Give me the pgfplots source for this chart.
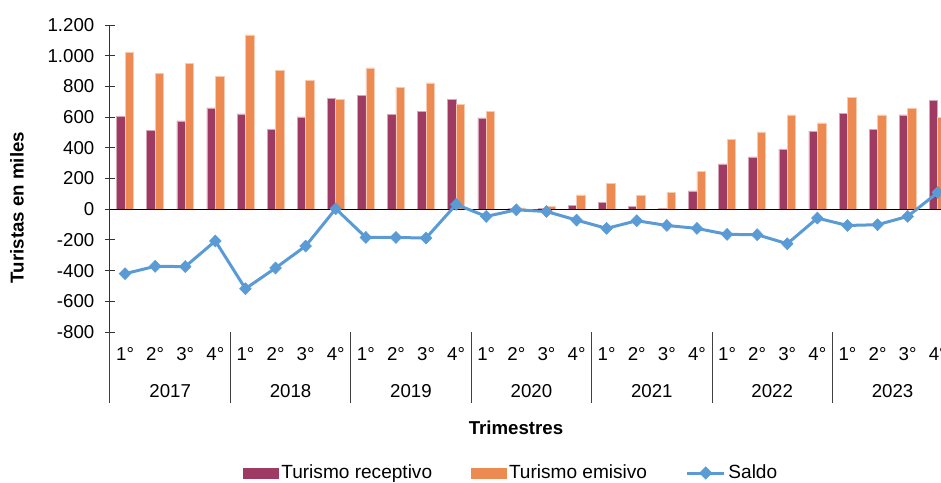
\documentclass[border=0pt]{standalone}
\usepackage{fontspec}
\setmainfont{Liberation Sans}
\usepackage{pgfplots}
\pgfplotsset{compat=1.18}
\usepackage{pgfplotstable}

\definecolor{rec}{HTML}{9F3A62}
\definecolor{emi}{HTML}{EC8A52}
\definecolor{sal}{HTML}{5B9BD5}

\pgfplotstableread{
x rec emi saldo
0 604 1020 -420
1 515 885 -372
2 576 950 -374
3 660 866 -207
4 621 1135 -518
5 521 903 -383
6 602 840 -240
7 720 715 3
8 743 920 -184
9 617 796 -184
10 638 823 -188
11 717 684 31
12 595 636 -47
13 6 8 -4
14 3 18 -15
15 23 94 -71
16 44 168 -125
17 20 92 -75
18 7 109 -106
19 120 244 -125
20 296 454 -164
21 341 504 -166
22 391 614 -225
23 508 562 -58
24 625 729 -106
25 521 614 -101
26 614 658 -47
27 708 597 109
}\data

\newcommand{\fs}{\fontsize{14}{16.8}\selectfont}
\newcommand{\fl}{\fontsize{14.3}{17}\selectfont}

\begin{document}
\begin{tikzpicture}
\useasboundingbox (-82.5pt,-112.5pt) rectangle (623.25pt,249pt);
\clip (-82.5pt,-112.5pt) rectangle (623.25pt,249pt);
\begin{axis}[
  at={(0pt,0pt)}, anchor=south west,
  scale only axis, width=632.1pt, height=230.25pt,
  xmin=-0.5, xmax=27.5, ymin=-800, ymax=1200,
  clip=false,
  axis x line*=bottom, axis y line*=left,
  x axis line style={draw=none},
  y axis line style={black!80, line width=0.75pt, -},
  xtick={0,...,27},
  xticklabels={1°,2°,3°,4°,1°,2°,3°,4°,1°,2°,3°,4°,1°,2°,3°,4°,1°,2°,3°,4°,1°,2°,3°,4°,1°,2°,3°,4°},
  xtick style={draw=none},
  xticklabel style={font=\fs, anchor=center, yshift=-12.5pt},
  ytick={-800,-600,...,1200},
  yticklabels={-800,-600,-400,-200,0,200,400,600,800,1.000,1.200},
  ytick style={black!80, line width=0.75pt},
  tick align=center, major tick length=7.5pt,
  yticklabel style={font=\fs, anchor=east, xshift=-4.5pt},
  ylabel={Turistas en miles},
  ylabel style={font=\fs\bfseries, at={(axis description cs:-0.1103,0.4055)}, anchor=center},
  xlabel={Trimestres},
  xlabel style={font=\fs\bfseries, at={(axis description cs:0.4817,-0.3127)}, anchor=center},
  legend columns=3,
  legend style={draw=none, fill=none, font=\fl, at={(axis description cs:0.4764,-0.4593)}, anchor=center,
    /tikz/every even column/.append style={column sep=27pt}},
  legend cell align=left,
]
\addplot[ybar, bar width=0.28, bar shift=-0.14, fill=rec, draw=rec!45!white, line width=0.4pt,
  legend image code/.code={\fill[rec] (0pt,-3.75pt) rectangle (26.25pt,3.75pt);}]
  table[x=x, y=rec] {\data};
\addlegendentry{Turismo receptivo}
\addplot[ybar, bar width=0.28, bar shift=0.14, fill=emi, draw=emi!45!white, line width=0.4pt,
  legend image code/.code={\fill[emi] (0pt,-3.75pt) rectangle (26.25pt,3.75pt);}]
  table[x=x, y=emi] {\data};
\addlegendentry{Turismo emisivo}
\addplot[black, line width=0.75pt, forget plot] coordinates {(-0.5,0) (27.5,0)};
\addplot[sal, line width=2.25pt, mark=diamond*, mark size=4.5pt,
  mark options={solid, fill=sal, draw=sal, line width=0.4pt, xscale=1.3},
  legend image code/.code={\draw[sal, line width=2.25pt] (0pt,0pt) -- (27.75pt,0pt);
    \fill[sal] (13.875pt,3.4pt) -- (17.3pt,0pt) -- (13.875pt,-3.4pt) -- (10.45pt,0pt) -- cycle;}]
  table[x=x, y=saldo] {\data};
\addlegendentry{Saldo}
\pgfplotsinvokeforeach{0,...,6}{
  \draw[black!75, line width=0.75pt] (axis cs:{4*#1-0.5},-800) -- ++(0pt,-53pt);
  \node[font=\fs] at (axis cs:{4*#1+1.5},-800) [yshift=-44.25pt] {\number\numexpr2017+#1\relax};
}
\end{axis}
\end{tikzpicture}
\end{document}
